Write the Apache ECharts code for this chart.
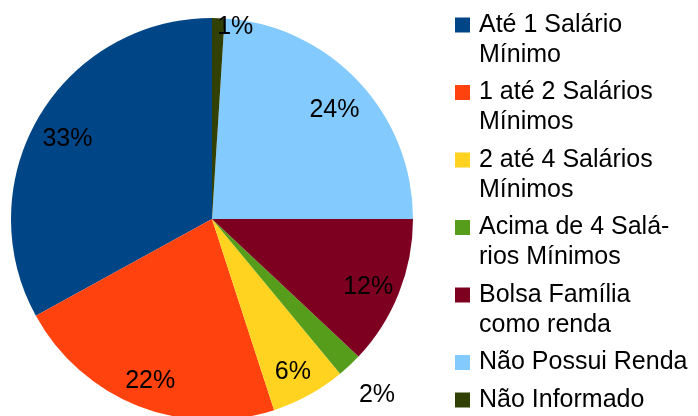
<!DOCTYPE html>
<html>
<head>
<meta charset="utf-8">
<script src="https://cdn.jsdelivr.net/npm/echarts@6/dist/echarts.min.js"></script>
<style>
  html, body { margin: 0; padding: 0; background: #fff; }
  #chart { width: 698px; height: 416px; }
</style>
</head>
<body>
<div id="chart"></div>
<script>
// categorias e valores (%)
const categories = [
  'Até 1 Salário Mínimo',
  '1 até 2 Salários Mínimos',
  '2 até 4 Salários Mínimos',
  'Acima de 4 Salários Mínimos',
  'Bolsa Família como renda',
  'Não Possui Renda',
  'Não Informado'
]
const legendLines = [
  ['Até 1 Salário', 'Mínimo'],
  ['1 até 2 Salários', 'Mínimos'],
  ['2 até 4 Salários', 'Mínimos'],
  ['Acima de 4 Salá-', 'rios Mínimos'],
  ['Bolsa Família', 'como renda'],
  ['Não Possui Renda'],
  ['Não Informado']
]
const values = [33, 22, 6, 2, 12, 24, 1]
const colors = ['#004586', '#ff420e', '#ffd320', '#579d1c', '#7e0021', '#83caff', '#314004']

// em que anel fica cada rótulo
const innerLabels = [0, 1, 2, 4, 5]
const edgeLabels = [6]
const outerLabels = [3]

const FONT = "'Liberation Sans', Arial, sans-serif"
const center = [212, 219]

const chart = echarts.init(document.getElementById('chart'), null, { renderer: 'canvas' })

// anel transparente só para posicionar os rótulos
function labelRing(radius, shown, labelExtra, dy) {
  return {
    type: 'pie',
    center: center,
    radius: radius,
    startAngle: 90,
    clockwise: false,
    silent: true,
    avoidLabelOverlap: false,
    emphasis: { disabled: true },
    itemStyle: { color: 'transparent', borderWidth: 0 },
    label: Object.assign({
      show: true,
      position: 'inside',
      color: '#000',
      fontSize: 25,
      fontFamily: FONT,
      formatter: p => Math.round(p.percent) + '%'
    }, labelExtra || {}),
    labelLayout: { dy: dy || 0 },
    labelLine: { show: false },
    data: values.map((v, i) => ({
      value: v,
      name: categories[i],
      label: { show: shown.indexOf(i) >= 0 }
    }))
  }
}

const rich = {
  g: { width: 24, lineHeight: 30 },
  s: { width: 9, lineHeight: 30 },
  t: { fontSize: 25, lineHeight: 30, fontFamily: FONT, color: '#000' }
}
colors.forEach((c, i) => {
  rich['m' + i] = { width: 15, height: 15, lineHeight: 30, backgroundColor: c }
})

const option = {
  animation: false,
  color: colors,
  legend: {
    orient: 'vertical',
    left: 450,
    top: 10,
    padding: 0,
    itemGap: 7.5,
    itemWidth: 0,
    itemHeight: 10,
    icon: 'none',
    selectedMode: false,
    data: categories,
    formatter: name => {
      const i = categories.indexOf(name)
      return legendLines[i].map((line, k) =>
        (k === 0 ? '{m' + i + '|}{s|}' : '{g|}') + '{t|' + line + '}'
      ).join('\n')
    },
    textStyle: { fontSize: 25, lineHeight: 30, fontFamily: FONT, color: '#000', rich: rich }
  },
  series: [
    {
      type: 'pie',
      center: center,
      radius: 201,
      startAngle: 90,
      clockwise: false,
      silent: true,
      emphasis: { disabled: true },
      itemStyle: { borderWidth: 0 },
      label: { show: false },
      labelLine: { show: false },
      data: values.map((v, i) => ({ value: v, name: categories[i] }))
    },
    labelRing([129, 201], innerLabels, null, 6),
    labelRing([189, 201], edgeLabels, { padding: [0, 0, 0, 34] }, 6),
    labelRing([220, 256], outerLabels)
  ]
}

chart.setOption(option)
</script>
</body>
</html>
